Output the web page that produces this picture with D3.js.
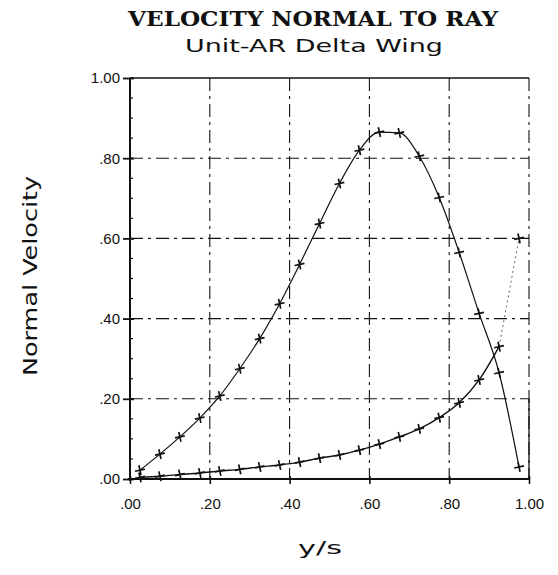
<!DOCTYPE html>
<html>
<head>
<meta charset="utf-8">
<script src="https://cdn.jsdelivr.net/npm/d3@7"></script>
<style>
  html, body { margin: 0; padding: 0; background: #fff; }
  svg { display: block; }
</style>
</head>
<body>
<svg id="chart" width="558" height="575"></svg>
<script>
// Spanwise stations y/s
const stations = [0.025, 0.075, 0.125, 0.175, 0.225, 0.275, 0.325, 0.375, 0.425, 0.475,
                  0.525, 0.575, 0.625, 0.675, 0.725, 0.775, 0.825, 0.875, 0.925, 0.975];
// Peaked distribution
const velocityA = [0.022, 0.062, 0.105, 0.152, 0.207, 0.275, 0.350, 0.437, 0.535, 0.637,
                   0.737, 0.820, 0.865, 0.863, 0.805, 0.702, 0.565, 0.413, 0.265, 0.030];
// Slowly rising distribution
const velocityB = [0.004, 0.007, 0.011, 0.015, 0.020, 0.024, 0.030, 0.035, 0.042, 0.052,
                   0.060, 0.072, 0.087, 0.105, 0.125, 0.153, 0.190, 0.247, 0.330, 0.600];

const xTicks = [0, 0.2, 0.4, 0.6, 0.8, 1.0];
const yTicks = [0, 0.2, 0.4, 0.6, 0.8, 1.0];
const xTickLabels = [".00", ".20", ".40", ".60", ".80", "1.00"];
const yTickLabels = [".00", ".20", ".40", ".60", ".80", "1.00"];
const yMinorTicks = d3.range(0, 1.0001, 0.05);

const svg = d3.select("#chart");
const x = d3.scaleLinear().domain([0, 1]).range([130, 529]);
const y = d3.scaleLinear().domain([0, 1]).range([479, 78]);
const ink = "#111";
const gridDash = "13,5,3,5";

// Titles
svg.append("text")
  .attr("x", 313).attr("y", 26)
  .attr("text-anchor", "middle")
  .attr("font-family", "'DejaVu Serif', 'Liberation Serif', serif")
  .attr("font-weight", "bold").attr("font-size", 20)
  .attr("textLength", 370).attr("lengthAdjust", "spacingAndGlyphs")
  .attr("fill", ink)
  .text("VELOCITY NORMAL TO RAY");

svg.append("text")
  .attr("x", 314).attr("y", 52)
  .attr("text-anchor", "middle")
  .attr("font-family", "'DejaVu Sans', sans-serif")
  .attr("font-size", 18.5)
  .attr("textLength", 258).attr("lengthAdjust", "spacingAndGlyphs")
  .attr("fill", ink)
  .text("Unit-AR Delta Wing");

// Grid (dash-dot)
const grid = svg.append("g").attr("stroke", ink).attr("stroke-width", 1.1)
  .attr("stroke-dasharray", gridDash).attr("fill", "none");
grid.selectAll("line.h").data(yTicks.filter(d => d > 0 && d < 1)).join("line")
  .attr("x1", x(0)).attr("x2", x(1)).attr("y1", d => y(d)).attr("y2", d => y(d));
grid.selectAll("line.v").data(xTicks.filter(d => d > 0)).join("line")
  .attr("y1", y(1)).attr("y2", y(0)).attr("x1", d => x(d)).attr("x2", d => x(d));

// Frame: solid left, bottom and top
svg.append("line").attr("x1", x(0)).attr("x2", x(0)).attr("y1", y(1)).attr("y2", y(0) + 2)
  .attr("stroke", ink).attr("stroke-width", 2);
svg.append("line").attr("x1", x(0) - 2).attr("x2", x(1)).attr("y1", y(0)).attr("y2", y(0))
  .attr("stroke", ink).attr("stroke-width", 2);
svg.append("line").attr("x1", x(0)).attr("x2", x(1)).attr("y1", y(1)).attr("y2", y(1))
  .attr("stroke", ink).attr("stroke-width", 1.6);
svg.append("line").attr("x1", x(1)).attr("x2", x(1)).attr("y1", y(0.2)).attr("y2", y(0))
  .attr("stroke", ink).attr("stroke-width", 1.3);

// Axes
const yAxis = d3.axisLeft(y).tickValues(yTicks).tickFormat((d, i) => yTickLabels[i])
  .tickSizeInner(7).tickSizeOuter(0).tickPadding(5);
const gy = svg.append("g").attr("transform", `translate(${x(0) + 4},0)`).call(yAxis);
gy.select(".domain").remove();
gy.selectAll(".tick line").attr("stroke", ink).attr("stroke-width", 1.8).attr("x2", -11);
gy.selectAll(".tick text").attr("x", -14);

const xAxis = d3.axisBottom(x).tickValues(xTicks).tickFormat((d, i) => xTickLabels[i])
  .tickSizeInner(5).tickSizeOuter(0).tickPadding(14);
const gx = svg.append("g").attr("transform", `translate(0,${y(0)})`).call(xAxis);
gx.select(".domain").remove();
gx.selectAll(".tick line").attr("stroke", ink).attr("stroke-width", 1.6).attr("y1", -3);

svg.selectAll(".tick text")
  .attr("font-family", "'Liberation Sans', Arial, sans-serif")
  .attr("font-size", 15).attr("fill", ink);

// Minor ticks on the left axis
svg.append("g").selectAll("line").data(yMinorTicks).join("line")
  .attr("x1", x(0)).attr("x2", x(0) + 3)
  .attr("y1", d => y(d)).attr("y2", d => y(d))
  .attr("stroke", ink).attr("stroke-width", 1.2);

// Axis titles
svg.append("text")
  .attr("transform", "translate(37,276) rotate(-90)")
  .attr("text-anchor", "middle")
  .attr("font-family", "'DejaVu Sans', sans-serif")
  .attr("font-size", 19)
  .attr("textLength", 200).attr("lengthAdjust", "spacingAndGlyphs")
  .attr("fill", ink)
  .text("Normal Velocity");

svg.append("text")
  .attr("x", 320).attr("y", 554)
  .attr("text-anchor", "middle")
  .attr("font-family", "'DejaVu Sans', sans-serif")
  .attr("font-size", 18)
  .attr("textLength", 44).attr("lengthAdjust", "spacingAndGlyphs")
  .attr("fill", ink)
  .text("y/s");

// Curves
const seriesA = stations.map((s, i) => [s, velocityA[i]]);
const seriesB = stations.map((s, i) => [s, velocityB[i]]);
const line = d3.line().x(d => x(d[0])).y(d => y(d[1])).curve(d3.curveMonotoneX);

svg.append("path").attr("d", line(seriesA))
  .attr("fill", "none").attr("stroke", ink).attr("stroke-width", 1.2);
svg.append("path").attr("d", line(seriesB.slice(0, 19)))
  .attr("fill", "none").attr("stroke", ink).attr("stroke-width", 1.4);
// last outboard segment, faint dotted
svg.append("path").attr("d", d3.line().x(d => x(d[0])).y(d => y(d[1]))(seriesB.slice(18)))
  .attr("fill", "none").attr("stroke", "#555").attr("stroke-width", 0.9)
  .attr("stroke-dasharray", "2,3");

// Plus markers
function plus(sel, data) {
  sel.selectAll("path.m").data(data).join("path")
    .attr("d", "M-5,0H5M0,-5V5")
    .attr("transform", d => `translate(${x(d[0])},${y(d[1])}) rotate(-12)`)
    .attr("stroke", ink).attr("stroke-width", 1.7).attr("fill", "none");
}
plus(svg.append("g"), seriesA);
plus(svg.append("g"), seriesB);
</script>
</body>
</html>
